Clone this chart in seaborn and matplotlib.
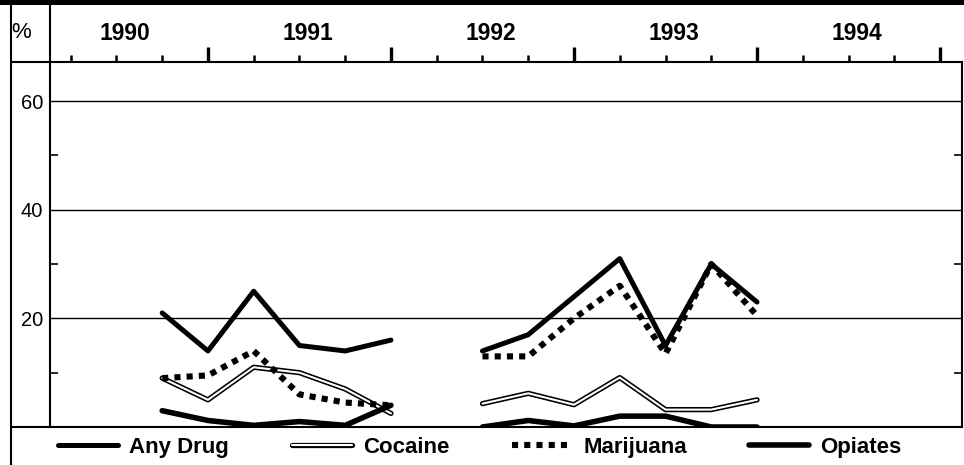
import numpy as np
import pandas as pd
import matplotlib
matplotlib.use('Agg')
import matplotlib.pyplot as plt
from matplotlib.lines import Line2D
from matplotlib.patches import Rectangle
from matplotlib.legend_handler import HandlerTuple
import seaborn as sns

# quarterly points, two survey periods with a gap between them
quarters_a = [1990.75, 1991.0, 1991.25, 1991.5, 1991.75, 1992.0]
quarters_b = [1992.5, 1992.75, 1993.0, 1993.25, 1993.5, 1993.75, 1994.0]

any_drug_a = [21, 14, 25, 15, 14, 16]
any_drug_b = [14, 17, 24, 31, 15, 30, 23]
cocaine_a = [9, 5, 11, 10, 7, 2.5]
cocaine_b = [4.3, 6.2, 4.1, 9.1, 3.2, 3.2, 5]
marijuana_a = [9, 9.5, 14, 6, 4.5, 4]
marijuana_b = [13, 13, 20, 26, 13.5, 30, 20.5]
opiates_a = [3, 1.2, 0.3, 1, 0.3, 4]
opiates_b = [0, 1.2, 0.2, 2, 2, 0, 0]

years = [1990, 1991, 1992, 1993, 1994]
y_ticks = [20, 40, 60]
series = ['Any Drug', 'Cocaine', 'Marijuana', 'Opiates']

rows = []
for name, a, b in [('Any Drug', any_drug_a, any_drug_b),
                   ('Cocaine', cocaine_a, cocaine_b),
                   ('Marijuana', marijuana_a, marijuana_b),
                   ('Opiates', opiates_a, opiates_b)]:
    for q, v in zip(quarters_a, a):
        rows.append((name, 'a', q, v))
    for q, v in zip(quarters_b, b):
        rows.append((name, 'b', q, v))
df = pd.DataFrame(rows, columns=['drug', 'segment', 'quarter', 'pct'])

sns.set_style('white')
plt.rcParams['font.family'] = ['Liberation Sans', 'DejaVu Sans']
plt.rcParams['text.color'] = 'black'
plt.rcParams['ytick.color'] = 'black'
plt.rcParams['xtick.color'] = 'black'

W, H = 964, 465
fig = plt.figure(figsize=(W / 100, H / 100), dpi=100)
ax = fig.add_axes([50 / W, 38 / H, 912 / W, 365 / H])

ax.set_xlim(1990.137, 1995.12)
ax.set_ylim(0, 67.2)

for y in y_ticks:
    ax.axhline(y, color='black', lw=1.0, zorder=1)

d = df[df.drug == 'Any Drug']
sns.lineplot(data=d, x='quarter', y='pct', units='segment', estimator=None,
             color='black', lw=3.6, ax=ax, zorder=4)
d = df[df.drug == 'Cocaine']
sns.lineplot(data=d, x='quarter', y='pct', units='segment', estimator=None,
             color='black', lw=3.8, ax=ax, zorder=3)
sns.lineplot(data=d, x='quarter', y='pct', units='segment', estimator=None,
             color='white', lw=1.5, ax=ax, zorder=3)
d = df[df.drug == 'Marijuana']
sns.lineplot(data=d, x='quarter', y='pct', units='segment', estimator=None,
             color='black', lw=4.4, ax=ax, zorder=5)
for ln in ax.lines[-2:]:
    ln.set_linestyle((0, (1, 1)))
    ln.set_dash_capstyle('butt')
d = df[df.drug == 'Opiates']
sns.lineplot(data=d, x='quarter', y='pct', units='segment', estimator=None,
             color='black', lw=4.0, ax=ax, zorder=4)

# top axis with year boundaries
ax.xaxis.tick_top()
ax.set_xticks([y + 1 for y in years])
ax.set_xticks(np.arange(1990.25, 1995.0, 0.25), minor=True)
ax.tick_params(axis='x', which='major', direction='out', length=11, width=2.4,
               color='black', labeltop=False, labelbottom=False)
ax.tick_params(axis='x', which='minor', direction='out', length=5, width=1.8,
               color='black')
for y in years:
    ax.text(y + 0.545, 1.077, str(y), transform=ax.get_xaxis_transform(),
            ha='center', va='center', fontsize=16.5, fontweight='bold')

ax.set_yticks(y_ticks)
ax.set_yticks([10, 30, 50], minor=True)
ax.tick_params(axis='y', which='major', length=0, pad=5, labelsize=14.5)
ax.tick_params(axis='y', which='minor', direction='in', length=6, width=1.2,
               left=True, right=True, color='black')
ax.set_xlabel('')
ax.set_ylabel('')
for s in ax.spines.values():
    s.set_color('black')
    s.set_linewidth(1.5)

# frame pieces outside the plotting area
fig.add_artist(Rectangle((0, 1 - 5 / H), 1, 5 / H, transform=fig.transFigure,
                         color='black', lw=0))
fig.add_artist(Line2D([11 / W, 11 / W], [0, 1], transform=fig.transFigure,
                      color='black', lw=1.5))
fig.add_artist(Line2D([50 / W, 50 / W], [403 / H, 1], transform=fig.transFigure,
                      color='black', lw=1.5))
for yy in [62, 427]:
    fig.add_artist(Line2D([11 / W, 50 / W], [1 - yy / H, 1 - yy / H],
                          transform=fig.transFigure, color='black', lw=1.5))
fig.text(21 / W, 1 - 33 / H, '%', ha='center', va='center', fontsize=16)

h_any = Line2D([], [], color='black', lw=3.6)
h_coc = (Line2D([], [], color='black', lw=3.8), Line2D([], [], color='white', lw=1.5))
h_mar = Line2D([], [], color='black', lw=4.4, linestyle=(0, (1, 1)),
               dash_capstyle='butt')
h_opi = Line2D([], [], color='black', lw=4.0)
fig.legend([h_any, h_coc, h_mar, h_opi], series, loc='center',
           bbox_to_anchor=(480 / W, 18 / H), ncol=4, frameon=False,
           handlelength=2.7, handletextpad=0.5, columnspacing=2.82,
           prop=dict(family='Liberation Sans', weight='bold', size=16),
           handler_map={tuple: HandlerTuple(ndivide=1)})

fig.savefig('out.png', dpi=100)
